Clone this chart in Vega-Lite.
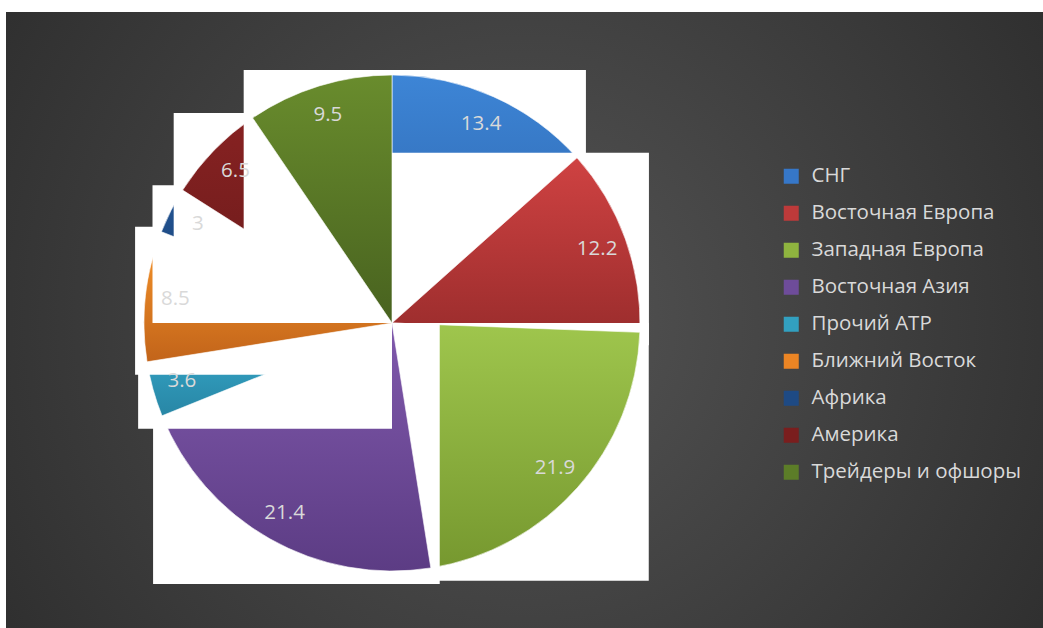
{
  "$schema": "https://vega.github.io/schema/vega-lite/v6.json",
  "width": 1037,
  "height": 616,
  "padding": {"left": 6, "top": 12, "right": 0, "bottom": 0},
  "autosize": {"type": "none"},
  "background": "#ffffff",
  "view": {"stroke": null, "fill": {"gradient": "radial", "x1": 0.5, "y1": 0.5, "r1": 0, "x2": 0.5, "y2": 0.5, "r2": 0.72, "stops": [{"offset": 0, "color": "#545454"}, {"offset": 1, "color": "#272727"}]}},
  "data": {"values": [
    {"region": "СНГ", "value": 13.4},
    {"region": "Восточная Европа", "value": 12.2},
    {"region": "Западная Европа", "value": 21.9},
    {"region": "Восточная Азия", "value": 21.4},
    {"region": "Прочий АТР", "value": 3.6},
    {"region": "Ближний Восток", "value": 8.5},
    {"region": "Африка", "value": 3},
    {"region": "Америка", "value": 6.5},
    {"region": "Трейдеры и офшоры", "value": 9.5}
  ]},
  "transform": [
    {"window": [{"op": "sum", "field": "value", "as": "cum"}], "frame": [null, 0]},
    {"calculate": "datum.cum - datum.value", "as": "start"},
    {"calculate": "datum.cum", "as": "end"},
    {"calculate": "(datum.start + datum.end) / 2", "as": "mid"},
    {"calculate": "datum.start / 100 * 2 * PI", "as": "a0"},
    {"calculate": "datum.end / 100 * 2 * PI", "as": "a1"},
    {"calculate": "(datum.a0 <= PI / 2 && datum.a1 >= PI / 2) ? 1 : max(sin(datum.a0), sin(datum.a1))", "as": "sxmax"},
    {"calculate": "(datum.a0 <= 3 * PI / 2 && datum.a1 >= 3 * PI / 2) ? -1 : min(sin(datum.a0), sin(datum.a1))", "as": "sxmin"},
    {"calculate": "(datum.a0 <= 0.0001 || datum.a1 >= 2 * PI - 0.0001) ? 1 : max(cos(datum.a0), cos(datum.a1))", "as": "symax"},
    {"calculate": "(datum.a0 <= PI && datum.a1 >= PI) ? -1 : min(cos(datum.a0), cos(datum.a1))", "as": "symin"},
    {"calculate": "datum.sxmax > 0.001 ? datum.sxmax + 0.036 : 0", "as": "bx2"},
    {"calculate": "datum.sxmin < -0.001 ? datum.sxmin - 0.036 : 0", "as": "bx1"},
    {"calculate": "datum.symax > 0.001 ? datum.symax + 0.02 : 0", "as": "by2"},
    {"calculate": "datum.symin < -0.001 ? datum.symin - 0.052 : 0", "as": "by1"}
  ],
  "layer": [
    {"transform": [{"filter": "datum.region === 'СНГ'"}], "layer": [
      {"mark": {"type": "rect", "fill": "#ffffff"}, "encoding": {"x": {"field": "bx1", "type": "quantitative", "scale": {"domain": [-1.5565, 2.625], "nice": false, "zero": false}, "axis": null}, "x2": {"field": "bx2"}, "y": {"field": "by1", "type": "quantitative", "scale": {"domain": [-1.2298, 1.254], "nice": false, "zero": false}, "axis": null}, "y2": {"field": "by2"}}},
      {"mark": {"type": "arc", "outerRadius": 248, "stroke": "#ffffff", "strokeWidth": 1, "strokeOpacity": 0.6, "fill": {"gradient": "linear", "x1": 0, "y1": 0, "x2": 0, "y2": 1, "stops": [{"offset": 0, "color": "#3d85d6"}, {"offset": 1, "color": "#2a5ea3"}]}}, "encoding": {"x": {"datum": 0, "type": "quantitative", "scale": {"domain": [-1.5565, 2.625], "nice": false, "zero": false}, "axis": null}, "y": {"datum": 0, "type": "quantitative", "scale": {"domain": [-1.2298, 1.254], "nice": false, "zero": false}, "axis": null}, "theta": {"field": "start", "type": "quantitative", "scale": {"domain": [0, 100]}, "stack": null}, "theta2": {"field": "end"}}}
    ]},
    {"transform": [{"filter": "datum.region === 'Восточная Европа'"}], "layer": [
      {"mark": {"type": "rect", "fill": "#ffffff"}, "encoding": {"x": {"field": "bx1", "type": "quantitative", "scale": {"domain": [-1.5565, 2.625], "nice": false, "zero": false}, "axis": null}, "x2": {"field": "bx2"}, "y": {"field": "by1", "type": "quantitative", "scale": {"domain": [-1.2298, 1.254], "nice": false, "zero": false}, "axis": null}, "y2": {"field": "by2"}}},
      {"mark": {"type": "arc", "outerRadius": 248, "stroke": "#ffffff", "strokeWidth": 1, "strokeOpacity": 0.6, "fill": {"gradient": "linear", "x1": 0, "y1": 0, "x2": 0, "y2": 1, "stops": [{"offset": 0, "color": "#cf4242"}, {"offset": 1, "color": "#9c2d2d"}]}}, "encoding": {"x": {"datum": 0, "type": "quantitative", "scale": {"domain": [-1.5565, 2.625], "nice": false, "zero": false}, "axis": null}, "y": {"datum": 0, "type": "quantitative", "scale": {"domain": [-1.2298, 1.254], "nice": false, "zero": false}, "axis": null}, "theta": {"field": "start", "type": "quantitative", "scale": {"domain": [0, 100]}, "stack": null}, "theta2": {"field": "end"}}}
    ]},
    {"transform": [{"filter": "datum.region === 'Западная Европа'"}], "layer": [
      {"mark": {"type": "rect", "fill": "#ffffff"}, "encoding": {"x": {"field": "bx1", "type": "quantitative", "scale": {"domain": [-1.5565, 2.625], "nice": false, "zero": false}, "axis": null}, "x2": {"field": "bx2"}, "y": {"field": "by1", "type": "quantitative", "scale": {"domain": [-1.2298, 1.254], "nice": false, "zero": false}, "axis": null}, "y2": {"field": "by2"}}},
      {"mark": {"type": "arc", "outerRadius": 248, "stroke": "#ffffff", "strokeWidth": 1, "strokeOpacity": 0.6, "fill": {"gradient": "linear", "x1": 0, "y1": 0, "x2": 0, "y2": 1, "stops": [{"offset": 0, "color": "#9fc64d"}, {"offset": 1, "color": "#76982f"}]}}, "encoding": {"x": {"datum": 0, "type": "quantitative", "scale": {"domain": [-1.5565, 2.625], "nice": false, "zero": false}, "axis": null}, "y": {"datum": 0, "type": "quantitative", "scale": {"domain": [-1.2298, 1.254], "nice": false, "zero": false}, "axis": null}, "theta": {"field": "start", "type": "quantitative", "scale": {"domain": [0, 100]}, "stack": null}, "theta2": {"field": "end"}}}
    ]},
    {"transform": [{"filter": "datum.region === 'Восточная Азия'"}], "layer": [
      {"mark": {"type": "rect", "fill": "#ffffff"}, "encoding": {"x": {"field": "bx1", "type": "quantitative", "scale": {"domain": [-1.5565, 2.625], "nice": false, "zero": false}, "axis": null}, "x2": {"field": "bx2"}, "y": {"field": "by1", "type": "quantitative", "scale": {"domain": [-1.2298, 1.254], "nice": false, "zero": false}, "axis": null}, "y2": {"field": "by2"}}},
      {"mark": {"type": "arc", "outerRadius": 248, "stroke": "#ffffff", "strokeWidth": 1, "strokeOpacity": 0.6, "fill": {"gradient": "linear", "x1": 0, "y1": 0, "x2": 0, "y2": 1, "stops": [{"offset": 0, "color": "#8059ac"}, {"offset": 1, "color": "#5c3c84"}]}}, "encoding": {"x": {"datum": 0, "type": "quantitative", "scale": {"domain": [-1.5565, 2.625], "nice": false, "zero": false}, "axis": null}, "y": {"datum": 0, "type": "quantitative", "scale": {"domain": [-1.2298, 1.254], "nice": false, "zero": false}, "axis": null}, "theta": {"field": "start", "type": "quantitative", "scale": {"domain": [0, 100]}, "stack": null}, "theta2": {"field": "end"}}}
    ]},
    {"transform": [{"filter": "datum.region === 'Прочий АТР'"}], "layer": [
      {"mark": {"type": "rect", "fill": "#ffffff"}, "encoding": {"x": {"field": "bx1", "type": "quantitative", "scale": {"domain": [-1.5565, 2.625], "nice": false, "zero": false}, "axis": null}, "x2": {"field": "bx2"}, "y": {"field": "by1", "type": "quantitative", "scale": {"domain": [-1.2298, 1.254], "nice": false, "zero": false}, "axis": null}, "y2": {"field": "by2"}}},
      {"mark": {"type": "arc", "outerRadius": 248, "stroke": "#ffffff", "strokeWidth": 1, "strokeOpacity": 0.6, "fill": {"gradient": "linear", "x1": 0, "y1": 0, "x2": 0, "y2": 1, "stops": [{"offset": 0, "color": "#38aed0"}, {"offset": 1, "color": "#2886a5"}]}}, "encoding": {"x": {"datum": 0, "type": "quantitative", "scale": {"domain": [-1.5565, 2.625], "nice": false, "zero": false}, "axis": null}, "y": {"datum": 0, "type": "quantitative", "scale": {"domain": [-1.2298, 1.254], "nice": false, "zero": false}, "axis": null}, "theta": {"field": "start", "type": "quantitative", "scale": {"domain": [0, 100]}, "stack": null}, "theta2": {"field": "end"}}}
    ]},
    {"transform": [{"filter": "datum.region === 'Ближний Восток'"}], "layer": [
      {"mark": {"type": "rect", "fill": "#ffffff"}, "encoding": {"x": {"field": "bx1", "type": "quantitative", "scale": {"domain": [-1.5565, 2.625], "nice": false, "zero": false}, "axis": null}, "x2": {"field": "bx2"}, "y": {"field": "by1", "type": "quantitative", "scale": {"domain": [-1.2298, 1.254], "nice": false, "zero": false}, "axis": null}, "y2": {"field": "by2"}}},
      {"mark": {"type": "arc", "outerRadius": 248, "stroke": "#ffffff", "strokeWidth": 1, "strokeOpacity": 0.6, "fill": {"gradient": "linear", "x1": 0, "y1": 0, "x2": 0, "y2": 1, "stops": [{"offset": 0, "color": "#f8962a"}, {"offset": 1, "color": "#c2641a"}]}}, "encoding": {"x": {"datum": 0, "type": "quantitative", "scale": {"domain": [-1.5565, 2.625], "nice": false, "zero": false}, "axis": null}, "y": {"datum": 0, "type": "quantitative", "scale": {"domain": [-1.2298, 1.254], "nice": false, "zero": false}, "axis": null}, "theta": {"field": "start", "type": "quantitative", "scale": {"domain": [0, 100]}, "stack": null}, "theta2": {"field": "end"}}}
    ]},
    {"transform": [{"filter": "datum.region === 'Африка'"}], "layer": [
      {"mark": {"type": "rect", "fill": "#ffffff"}, "encoding": {"x": {"field": "bx1", "type": "quantitative", "scale": {"domain": [-1.5565, 2.625], "nice": false, "zero": false}, "axis": null}, "x2": {"field": "bx2"}, "y": {"field": "by1", "type": "quantitative", "scale": {"domain": [-1.2298, 1.254], "nice": false, "zero": false}, "axis": null}, "y2": {"field": "by2"}}},
      {"mark": {"type": "arc", "outerRadius": 248, "stroke": "#ffffff", "strokeWidth": 1, "strokeOpacity": 0.6, "fill": {"gradient": "linear", "x1": 0, "y1": 0, "x2": 0, "y2": 1, "stops": [{"offset": 0, "color": "#235595"}, {"offset": 1, "color": "#173c6c"}]}}, "encoding": {"x": {"datum": 0, "type": "quantitative", "scale": {"domain": [-1.5565, 2.625], "nice": false, "zero": false}, "axis": null}, "y": {"datum": 0, "type": "quantitative", "scale": {"domain": [-1.2298, 1.254], "nice": false, "zero": false}, "axis": null}, "theta": {"field": "start", "type": "quantitative", "scale": {"domain": [0, 100]}, "stack": null}, "theta2": {"field": "end"}}}
    ]},
    {"transform": [{"filter": "datum.region === 'Америка'"}], "layer": [
      {"mark": {"type": "rect", "fill": "#ffffff"}, "encoding": {"x": {"field": "bx1", "type": "quantitative", "scale": {"domain": [-1.5565, 2.625], "nice": false, "zero": false}, "axis": null}, "x2": {"field": "bx2"}, "y": {"field": "by1", "type": "quantitative", "scale": {"domain": [-1.2298, 1.254], "nice": false, "zero": false}, "axis": null}, "y2": {"field": "by2"}}},
      {"mark": {"type": "arc", "outerRadius": 248, "stroke": "#ffffff", "strokeWidth": 1, "strokeOpacity": 0.6, "fill": {"gradient": "linear", "x1": 0, "y1": 0, "x2": 0, "y2": 1, "stops": [{"offset": 0, "color": "#872222"}, {"offset": 1, "color": "#681a1a"}]}}, "encoding": {"x": {"datum": 0, "type": "quantitative", "scale": {"domain": [-1.5565, 2.625], "nice": false, "zero": false}, "axis": null}, "y": {"datum": 0, "type": "quantitative", "scale": {"domain": [-1.2298, 1.254], "nice": false, "zero": false}, "axis": null}, "theta": {"field": "start", "type": "quantitative", "scale": {"domain": [0, 100]}, "stack": null}, "theta2": {"field": "end"}}}
    ]},
    {"transform": [{"filter": "datum.region === 'Трейдеры и офшоры'"}], "layer": [
      {"mark": {"type": "rect", "fill": "#ffffff"}, "encoding": {"x": {"field": "bx1", "type": "quantitative", "scale": {"domain": [-1.5565, 2.625], "nice": false, "zero": false}, "axis": null}, "x2": {"field": "bx2"}, "y": {"field": "by1", "type": "quantitative", "scale": {"domain": [-1.2298, 1.254], "nice": false, "zero": false}, "axis": null}, "y2": {"field": "by2"}}},
      {"mark": {"type": "arc", "outerRadius": 248, "stroke": "#ffffff", "strokeWidth": 1, "strokeOpacity": 0.6, "fill": {"gradient": "linear", "x1": 0, "y1": 0, "x2": 0, "y2": 1, "stops": [{"offset": 0, "color": "#698c2d"}, {"offset": 1, "color": "#48621f"}]}}, "encoding": {"x": {"datum": 0, "type": "quantitative", "scale": {"domain": [-1.5565, 2.625], "nice": false, "zero": false}, "axis": null}, "y": {"datum": 0, "type": "quantitative", "scale": {"domain": [-1.2298, 1.254], "nice": false, "zero": false}, "axis": null}, "theta": {"field": "start", "type": "quantitative", "scale": {"domain": [0, 100]}, "stack": null}, "theta2": {"field": "end"}}}
    ]},
    {"mark": {"type": "text", "radius": 218, "font": "Open Sans", "fontSize": 20.5, "color": "#d9d9d9", "align": "center", "baseline": "middle"}, "encoding": {
      "x": {"datum": 0, "type": "quantitative", "scale": {"domain": [-1.5565, 2.625], "nice": false, "zero": false}, "axis": null},
      "y": {"datum": 0, "type": "quantitative", "scale": {"domain": [-1.2298, 1.254], "nice": false, "zero": false}, "axis": null},
      "theta": {"field": "mid", "type": "quantitative", "scale": {"domain": [0, 100]}, "stack": null},
      "text": {"field": "value", "type": "nominal"}
    }},
    {"transform": [{"filter": "false"}], "mark": {"type": "square", "filled": true, "opacity": 1}, "encoding": {
      "color": {"field": "region", "type": "nominal",
        "scale": {"domain": ["СНГ", "Восточная Европа", "Западная Европа", "Восточная Азия", "Прочий АТР", "Ближний Восток", "Африка", "Америка", "Трейдеры и офшоры"],
          "range": ["#3677c8", "#bd3a3a", "#8fb43f", "#6e4c9a", "#32a0c0", "#ec8524", "#1e4a84", "#7a1e1e", "#5c7d28"]},
        "legend": {"title": null, "orient": "none", "legendX": 775, "legendY": 154, "labelFont": "Open Sans", "labelFontSize": 20.5, "labelColor": "#d9d9d9", "labelLimit": 0, "symbolType": "square", "symbolSize": 225, "symbolStrokeWidth": 0, "symbolOpacity": 1, "rowPadding": 16, "labelOffset": 10}}
    }}
  ]
}
